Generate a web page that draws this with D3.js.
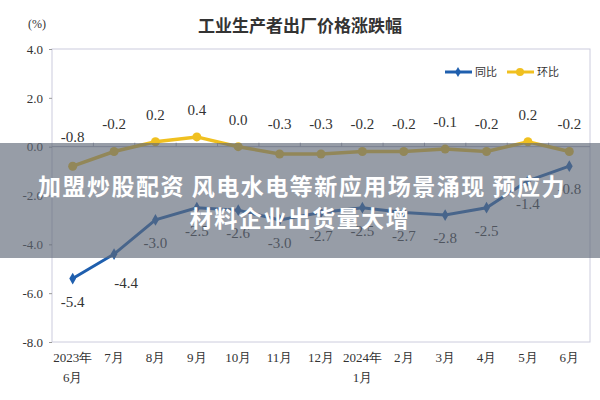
<!DOCTYPE html>
<html><head><meta charset="utf-8">
<script src="https://cdn.jsdelivr.net/npm/d3@7/dist/d3.min.js"></script>
<style>body{margin:0;background:#fff}</style></head>
<body><svg id="c" width="600" height="400"></svg>
<script>
const categories = ["2023年\n6月","7月","8月","9月","10月","11月","12月","2024年\n1月","2月","3月","4月","5月","6月"];
const yoy = [-5.4,-4.4,-3.0,-2.5,-2.6,-3.0,-2.7,-2.5,-2.7,-2.8,-2.5,-1.4,-0.8];
const mom = [-0.8,-0.2,0.2,0.4,0.0,-0.3,-0.3,-0.2,-0.2,-0.1,-0.2,0.2,-0.2];
const yTicks = [4,2,0,-2,-4,-6,-8];
const svg = d3.select("#c");
const L=52,R=590,T=49,B=342;
const x = d3.scaleBand().domain(d3.range(categories.length)).range([L,R]);
const cx = i => x(i)+x.bandwidth()/2;
const y = d3.scaleLinear().domain([-8,4]).range([B,T]);
const serif = "'Liberation Serif','DejaVu Serif',serif";
svg.append("rect").attr("x",L).attr("y",T).attr("width",R-L).attr("height",B-T).attr("fill","none").attr("stroke","#ccd").attr("stroke-width",1);
const ya = svg.append("g").attr("transform",`translate(${L},0)`).call(d3.axisLeft(y).tickValues(yTicks).tickFormat(d3.format(".1f")).tickSize(3).tickPadding(6));
ya.select(".domain").remove();
ya.selectAll("line").attr("stroke","#999");
ya.selectAll("text").attr("font-family",serif).attr("font-size",13).attr("fill","#333").text(d=>d.toFixed(1));
svg.append("line").attr("x1",L).attr("x2",R).attr("y1",y(0)).attr("y2",y(0)).attr("stroke","#aab");
svg.selectAll(".zt").data(d3.range(1,categories.length)).enter().append("line")
 .attr("x1",d=>x(d)).attr("x2",d=>x(d)).attr("y1",y(0)-4).attr("y2",y(0)).attr("stroke","#aab");
const xl = svg.selectAll(".xl").data(categories).enter().append("text").attr("text-anchor","middle")
 .attr("font-family",serif).attr("font-size",13).attr("fill","#333");
xl.each(function(d,i){const parts=d.split("\n");parts.forEach((p,k)=>d3.select(this).append("tspan").attr("x",cx(i)).attr("y",362+k*20).text(p));});
svg.append("text").attr("x",300).attr("y",32).attr("text-anchor","middle").attr("font-family","'Noto Sans CJK SC'").attr("font-weight","bold").attr("font-size",17).attr("fill","#333").text("工业生产者出厂价格涨跌幅");
svg.append("text").attr("x",28).attr("y",28).attr("font-family",serif).attr("font-size",12).attr("fill","#333").text("(%)");
const line = d3.line().x((d,i)=>cx(i)).y(d=>y(d));
svg.append("path").datum(mom).attr("d",line).attr("fill","none").attr("stroke","#f0c020").attr("stroke-width",3.5);
svg.selectAll(".mp").data(mom).enter().append("circle").attr("cx",(d,i)=>cx(i)).attr("cy",d=>y(d)).attr("r",4.5).attr("fill","#f0c020");
svg.append("path").datum(yoy).attr("d",line).attr("fill","none").attr("stroke","#1f5fae").attr("stroke-width",3);
svg.selectAll(".yp").data(yoy).enter().append("path").attr("d",d3.symbol(d3.symbolDiamond,40)).attr("transform",(d,i)=>`translate(${cx(i)},${y(d)})`).attr("fill","#1f5fae");
svg.selectAll(".ml").data(mom).enter().append("text").attr("x",(d,i)=>cx(i)).attr("y",(d,i)=>i==0?142:Math.min(y(d)-22,129))
 .attr("text-anchor","middle").attr("font-family",serif).attr("font-size",15).attr("fill","#333").text(d=>d.toFixed(1));
svg.selectAll(".yl").data(yoy).enter().append("text").attr("x",(d,i)=>cx(i)+(i==1?12:0)).attr("y",(d,i)=>y(d)+(i==1?34:28))
 .attr("text-anchor","middle").attr("font-family",serif).attr("font-size",15).attr("fill","#333").text(d=>d.toFixed(1));
const lg = svg.append("g").attr("font-family","'Noto Sans CJK SC'").attr("font-size",11).attr("fill","#333");
lg.append("line").attr("x1",445).attr("x2",472).attr("y1",72).attr("y2",72).attr("stroke","#1f5fae").attr("stroke-width",3);
lg.append("path").attr("d",d3.symbol(d3.symbolDiamond,30)).attr("transform","translate(458,72)").attr("fill","#1f5fae");
lg.append("text").attr("x",475).attr("y",76).text("同比");
lg.append("line").attr("x1",507).attr("x2",534).attr("y1",72).attr("y2",72).attr("stroke","#f0c020").attr("stroke-width",3);
lg.append("circle").attr("cx",520).attr("cy",72).attr("r",4).attr("fill","#f0c020");
lg.append("text").attr("x",537).attr("y",76).text("环比");
svg.append("rect").attr("x",0).attr("y",143).attr("width",600).attr("height",115).attr("fill","rgb(95,105,120)").attr("opacity",0.65);
const bt = svg.append("text").attr("text-anchor","middle").attr("font-family","'Noto Sans CJK SC'").attr("font-weight","bold").attr("font-size",23).attr("letter-spacing",1.5).attr("fill","#fff");
bt.append("tspan").attr("x",302).attr("y",195).text("加盟炒股配资 风电水电等新应用场景涌现 预应力");
bt.append("tspan").attr("x",300).attr("y",227).text("材料企业出货量大增");
</script></body></html>
